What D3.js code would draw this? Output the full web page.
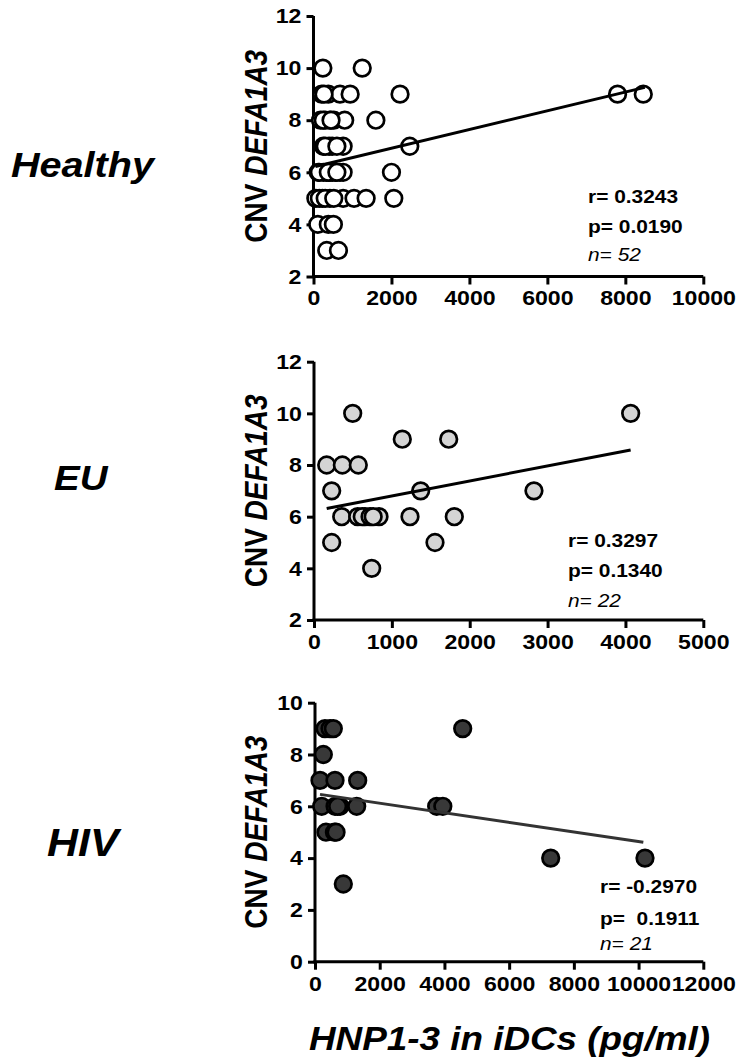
<!DOCTYPE html>
<html><head><meta charset="utf-8">
<script src="https://cdn.jsdelivr.net/npm/d3@7"></script>
<style>body{margin:0;background:#fff} svg{display:block;font-family:"Liberation Sans",Arial,Helvetica,sans-serif}</style>
</head><body><svg id="c" width="736" height="1062"></svg>
<script>
// ---------- data ----------
const groupLabels = ["Healthy", "EU", "HIV"];
const yTitleMain = "CNV ", yTitleGene = "DEFA1A3";
const xTitle = "HNP1-3 in iDCs (pg/ml)";

const healthyX = [240,1250, 210,380,680,940,2220,7800,8460,270, 180,300,420,520,800,1600,250,450,
  250,400,480,760,2470,300,600, 120,250,330,420,480,560,680,760,2000,150,380,600,
  60,230,420,760,1040,1350,2060,150,300,520, 110,380,510, 340,640];
const healthyY = [10,10, 9,9,9,9,9,9,9,9, 8,8,8,8,8,8,8,8,
  7,7,7,7,7,7,7, 6,6,6,6,6,6,6,6,6,6,6,6,
  5,5,5,5,5,5,5,5,5,5, 4,4,4, 3,3];

const euX = [163,364,569,227,497,356,561,655,835,227,741,1134,1233,1370,1554,1730,1802,2825,4067,620,720,760];
const euY = [8,8,8,7,10,6,6,6,6,5,4,9,6,7,5,9,6,7,10,6,6,6];

const hivX = [309,464,566,4564,257,155,618,1319,207,620,773,1288,3760,3950,700,340,600,650,875,7284,10198];
const hivY = [9,9,9,9,8,7,7,7,6,6,6,6,6,6,6,5,5,5,3,4,4];

const fitHealthy = [[50, 6.22], [8500, 9.26]];
const fitEU = [[163, 6.32], [4067, 8.58]];
const fitHIV = [[155, 6.46], [10147, 4.61]];

const xTicksHealthy = [0,2000,4000,6000,8000,10000];
const xTicksEU = [0,1000,2000,3000,4000,5000];
const xTicksHIV = [0,2000,4000,6000,8000,10000,12000];
const yTicksHealthy = [2,4,6,8,10,12];
const yTicksEU = [2,4,6,8,10,12];
const yTicksHIV = [0,2,4,6,8,10];

const rTexts = ["r= 0.3243", "r= 0.3297", "r= -0.2970"];
const pTexts = ["p= 0.0190", "p= 0.1340", "p=  0.1911"];
const nTexts = ["n= 52", "n= 22", "n= 21"];

// ---------- layout ----------
const SX = 1.1; // horizontal stretch of glyphs
const panels = [
  {xs: healthyX, ys: healthyY, fit: fitHealthy, xd:[0,10000], yd:[2,12], xt:xTicksHealthy, yt:yTicksHealthy,
   px:[313.5,703.3], py:[276.5,16], fill:"#ffffff", lineCol:"#000",
   label:{x:11,y:177,size:36}, ann:{x:588,y:[203,233,261]}},
  {xs: euX, ys: euY, fit: fitEU, xd:[0,5000], yd:[2,12], xt:xTicksEU, yt:yTicksEU,
   px:[314,703.3], py:[620,361.7], fill:"#d4d4d4", lineCol:"#000",
   label:{x:54,y:490,size:35}, ann:{x:568,y:[547,577,607]}},
  {xs: hivX, ys: hivY, fit: fitHIV, xd:[0,12000], yd:[0,10], xt:xTicksHIV, yt:yTicksHIV,
   px:[315,703.3], py:[961.7,702.7], fill:"#383838", lineCol:"#333",
   label:{x:47,y:856,size:39}, ann:{x:600,y:[893,925,950]}}
];

const svg = d3.select("#c");

panels.forEach((p, i) => {
  const x = d3.scaleLinear().domain(p.xd).range(p.px);
  const y = d3.scaleLinear().domain(p.yd).range(p.py);
  const g = svg.append("g");

  // axes
  const xa = g.append("g").attr("transform", `translate(0,${p.py[0]})`)
    .call(d3.axisBottom(x).tickValues(p.xt).tickFormat(d3.format("d")).tickSize(8).tickSizeOuter(0).tickPadding(6));
  const ya = g.append("g").attr("transform", `translate(${p.px[0]},0)`)
    .call(d3.axisLeft(y).tickValues(p.yt).tickFormat(d3.format("d")).tickSize(7).tickSizeOuter(0).tickPadding(4));
  [xa, ya].forEach(a => {
    a.select(".domain").attr("stroke", "#000").attr("stroke-width", 3);
    a.selectAll(".tick line").attr("stroke", "#000").attr("stroke-width", 3);
    a.selectAll(".tick text").attr("fill", "#000").attr("font-size", 21).attr("font-weight", "bold")
      .attr("font-family", '"Liberation Sans",Arial,sans-serif')
      .attr("transform", `scale(${SX},1)`);
  });
  xa.select(".domain").attr("d", `M${p.px[0]-1.5},0H${p.px[1]}`);
  ya.select(".domain").attr("d", `M0,${p.py[0]+1.5}V${p.py[1]}`);

  // points
  const pts = p.xs.map((v, k) => [v, p.ys[k]]);
  g.append("g").selectAll("circle").data(pts).join("circle")
    .attr("cx", d => x(d[0])).attr("cy", d => y(d[1])).attr("r", 8.3)
    .attr("fill", p.fill).attr("stroke", "#000").attr("stroke-width", 2.7);

  // fit line
  g.append("path").datum(p.fit)
    .attr("d", d3.line().x(d => x(d[0])).y(d => y(d[1])))
    .attr("stroke", p.lineCol).attr("stroke-width", 3).attr("fill", "none");

  // y title
  const cy = (p.py[0] + p.py[1]) / 2;
  const yt = g.append("text")
    .attr("transform", `translate(267,${cy}) scale(${SX},1) rotate(-90)`)
    .attr("text-anchor", "middle").attr("font-size", 28).attr("font-weight", "bold");
  yt.append("tspan").text(yTitleMain);
  yt.append("tspan").attr("font-style", "italic").text(yTitleGene);

  // group label
  g.append("text").attr("transform", `translate(${p.label.x},${p.label.y}) scale(${SX},1)`)
    .attr("font-size", p.label.size).attr("font-weight", "bold").attr("font-style", "italic")
    .text(groupLabels[i]);

  // annotations
  [rTexts[i], pTexts[i]].forEach((t, k) => {
    g.append("text").attr("transform", `translate(${p.ann.x},${p.ann.y[k]}) scale(${SX},1)`)
      .attr("font-size", 19).attr("font-weight", "bold").style("white-space", "pre").text(t);
  });
  g.append("text").attr("transform", `translate(${p.ann.x},${p.ann.y[2]}) scale(${SX},1)`)
    .attr("font-size", 19).attr("font-style", "italic").style("white-space", "pre").text(nTexts[i]);
});

// x title
svg.append("text").attr("transform", `translate(509.5,1050) scale(${SX},1)`)
  .attr("text-anchor", "middle").attr("font-size", 33.5).attr("font-weight", "bold").attr("font-style", "italic")
  .text(xTitle);
</script>
</body></html>
